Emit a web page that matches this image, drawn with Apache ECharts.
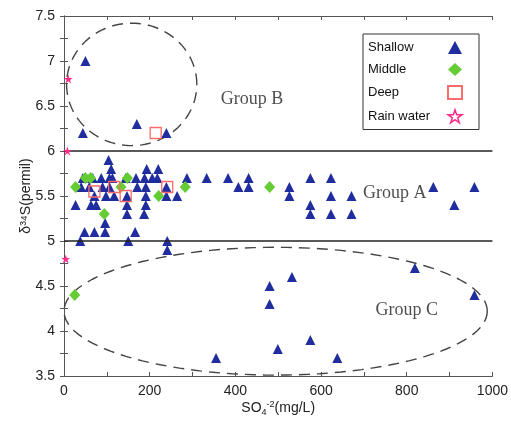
<!DOCTYPE html>
<html>
<head>
<meta charset="utf-8">
<script src="https://cdn.jsdelivr.net/npm/echarts@6/dist/echarts.min.js"></script>
<style>html,body{margin:0;padding:0;background:#fff}#c{width:511px;height:428px}</style>
</head>
<body>
<div id="c"></div>
<script>
// ---- data (SO4 mg/L, delta34S permil) ----
const shallow = [
  [50,7.0],[170,6.3],[44,6.2],[239,6.2],
  [104,5.9],
  [110,5.8],[193,5.8],[220,5.8],
  [44,5.7],[67,5.7],[87,5.7],[106,5.7],[113,5.7],[144,5.7],[168,5.7],[188,5.7],[206,5.7],[218,5.7],[287,5.7],[333,5.7],[383,5.7],[431,5.7],[575,5.7],[623,5.7],
  [40,5.6],[59,5.6],[90,5.6],[106,5.6],[171,5.6],[191,5.6],[239,5.6],[407,5.6],[431,5.6],[526,5.6],[862,5.6],[958,5.6],
  [71,5.5],[98,5.5],[117,5.5],[147,5.5],[191,5.5],[239,5.5],[264,5.5],[526,5.5],[623,5.5],[671,5.5],
  [27,5.4],[63,5.4],[75,5.4],[147,5.4],[191,5.4],[575,5.4],[911,5.4],
  [147,5.3],[187,5.3],[575,5.3],[623,5.3],[671,5.3],
  [96,5.2],
  [48,5.1],[71,5.1],[96,5.1],[166,5.1],
  [38,5.0],[150,5.0],[241,5.0],
  [241,4.9],
  [480,4.5],[480,4.3],[532,4.6],[819,4.7],[958,4.4],[355,3.7],[499,3.8],[575,3.9],[638,3.7]
];
const middle = [[27,5.6],[50,5.7],[62,5.7],[148,5.7],[133,5.6],[94,5.3],[221,5.5],[283,5.6],[480,5.6],[25,4.4]];
const deep = [[214,6.2],[71,5.55],[117,5.6],[144,5.5],[241,5.6]];
const rain = [[10,6.8],[8,6.0],[4,4.8]];
const groupLines = [5, 6];
const groupLabels = [[439,6.57,'Group B'],[772,5.53,'Group A'],[800,4.23,'Group C']];
// ellipse annotations: [cx, cy, rx, ry]
const ellipses = [[158,6.74,152,0.68],[494,4.22,494,0.71]];
const xTicks = [0,200,400,600,800,1000];
const yTicks = [3.5,4,4.5,5,5.5,6,6.5,7,7.5];

function ellipsePts(e){
  const pts=[];
  for(let i=0;i<=120;i++){const t=i/120*2*Math.PI;pts.push([e[0]+e[2]*Math.cos(t),e[1]+e[3]*Math.sin(t)]);}
  return pts;
}
const starPath='path://M50,0 L61.8,35.1 L98.9,35.1 L68.9,56.8 L80.3,91.9 L50,70.2 L19.7,91.9 L31.1,56.8 L1.1,35.1 L38.2,35.1 Z';
const font='"Liberation Sans", Arial, sans-serif';
const axisCommon = {
  axisLine:{show:true,lineStyle:{color:'#555',width:1}},
  axisTick:{show:true,inside:true,length:4,lineStyle:{color:'#555'}},
  splitLine:{show:false}
};
const chart=echarts.init(document.getElementById('c'));
const ellipseSeries = ellipses.map(e=>({
  type:'line',data:ellipsePts(e),showSymbol:false,silent:true,smooth:false,
  lineStyle:{color:'#444',width:1.4,type:[11,7]},z:1,animation:false,legendHoverLink:false
}));
chart.setOption({
  animation:false,
  grid:{left:64,right:15,top:16,bottom:52},
  legend:{
    orient:'vertical',left:363,top:34,align:'right',
    padding:[7,16,6,5],itemGap:9,itemWidth:14,itemHeight:13,
    borderColor:'#333',borderWidth:1,backgroundColor:'#fff',
    formatter:n=>'{t|'+n+'}',
    textStyle:{fontFamily:font,fontSize:13,color:'#111',rich:{t:{width:75,align:'left',fontFamily:font,fontSize:13,color:'#111'}}},
    data:[
      {name:'Shallow'},{name:'Middle'},{name:'Deep'},
      {name:'Rain water',icon:starPath,itemStyle:{color:'#fff',borderColor:'#ff2d8a',borderWidth:1.5}}
    ]
  },
  xAxis:[{
    type:'value',min:0,max:1000,interval:100,...axisCommon,
    axisLabel:{fontFamily:font,fontSize:14,color:'#222',margin:8,
      formatter:v=>xTicks.indexOf(v)>=0?String(v):''},
    name:'{a|SO}{b|4}{c|-2}{a|(mg/L)}',nameLocation:'middle',nameGap:24,nameMoveOverlap:false,
    nameTextStyle:{rich:{a:{fontFamily:font,fontSize:14,color:'#222'},b:{fontFamily:font,fontSize:9,color:'#222',verticalAlign:'bottom',padding:[8,0,0,0]},c:{fontFamily:font,fontSize:9,color:'#222',verticalAlign:'top',padding:[0,0,6,0]}}}
  },{
    type:'value',position:'top',min:0,max:1000,interval:100,...axisCommon,axisLabel:{show:false}
  }],
  yAxis:[{
    type:'value',min:3.5,max:7.5,interval:0.25,...axisCommon,
    axisLabel:{fontFamily:font,fontSize:14,color:'#222',margin:9,
      formatter:v=>yTicks.indexOf(v)>=0?String(v):''},
    name:'δ³⁴S(permil)',nameLocation:'middle',nameGap:31,nameMoveOverlap:false,
    nameTextStyle:{fontFamily:font,fontSize:14,color:'#222'}
  },{
    type:'value',position:'right',min:3.5,max:7.5,interval:0.25,...axisCommon,axisLabel:{show:false}
  }],
  series:[
    ...ellipseSeries,
    {type:'line',data:[],silent:true,markLine:{silent:true,symbol:'none',label:{show:false},
      lineStyle:{color:'#222',width:1.5,type:'solid'},data:groupLines.map(v=>({yAxis:v}))}},
    {type:'scatter',data:groupLabels,symbolSize:0,silent:true,
      label:{show:true,position:'inside',formatter:p=>p.data[2],fontFamily:'"Liberation Serif", "Times New Roman", serif',fontSize:18,color:'#222'}},
    {name:'Shallow',type:'scatter',data:shallow,symbol:'triangle',symbolSize:10,itemStyle:{color:'#1f2d9e',opacity:1},z:3},
    {name:'Middle',type:'scatter',data:middle,symbol:'diamond',symbolSize:[11,12],itemStyle:{color:'#66cc33',opacity:1},z:4},
    {name:'Deep',type:'scatter',data:deep,symbol:'rect',symbolSize:11,itemStyle:{color:'rgba(255,255,255,0)',borderColor:'#ff6b6b',borderWidth:1.3,opacity:1},z:5},
    {name:'Rain water',type:'scatter',data:rain,symbol:starPath,symbolSize:9,itemStyle:{color:'#ff2d8a',opacity:1},z:5}
  ]
});
</script>
</body>
</html>
